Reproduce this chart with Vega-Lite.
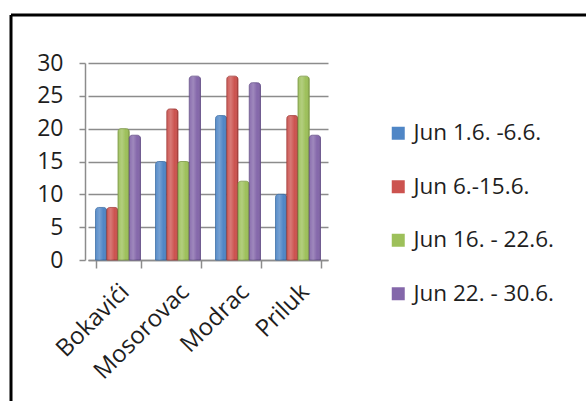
{
  "$schema": "https://vega.github.io/schema/vega-lite/v6.json",
  "width": 575,
  "height": 386,
  "autosize": {"type": "none"},
  "padding": {"left": 11, "top": 15, "right": 0, "bottom": 0},
  "background": "white",
  "config": {
    "font": "Open Sans",
    "view": {"stroke": "black", "strokeWidth": 3, "strokeDash": [575, 961, 386, 0]}
  },
  "data": {
    "values": [
      {"site": "Bokavići", "period": "Jun 1.6. -6.6.", "value": 8},
      {"site": "Bokavići", "period": "Jun 6.-15.6.", "value": 8},
      {"site": "Bokavići", "period": "Jun 16. - 22.6.", "value": 20},
      {"site": "Bokavići", "period": "Jun 22. - 30.6.", "value": 19},
      {"site": "Mosorovac", "period": "Jun 1.6. -6.6.", "value": 15},
      {"site": "Mosorovac", "period": "Jun 6.-15.6.", "value": 23},
      {"site": "Mosorovac", "period": "Jun 16. - 22.6.", "value": 15},
      {"site": "Mosorovac", "period": "Jun 22. - 30.6.", "value": 28},
      {"site": "Modrac", "period": "Jun 1.6. -6.6.", "value": 22},
      {"site": "Modrac", "period": "Jun 6.-15.6.", "value": 28},
      {"site": "Modrac", "period": "Jun 16. - 22.6.", "value": 12},
      {"site": "Modrac", "period": "Jun 22. - 30.6.", "value": 27},
      {"site": "Priluk", "period": "Jun 1.6. -6.6.", "value": 10},
      {"site": "Priluk", "period": "Jun 6.-15.6.", "value": 22},
      {"site": "Priluk", "period": "Jun 16. - 22.6.", "value": 28},
      {"site": "Priluk", "period": "Jun 22. - 30.6.", "value": 19}
    ]
  },
  "encoding": {
    "x": {
      "field": "site",
      "type": "nominal",
      "sort": null,
      "scale": {"range": [77, 317], "paddingInner": 0.25, "paddingOuter": 0.125},
      "axis": {
        "title": null,
        "orient": "bottom",
        "offset": -141,
        "labelAngle": -45,
        "labelAlign": "right",
        "labelBaseline": "middle",
        "labelFontSize": 24,
        "labelColor": "#1e1e1e",
        "labelPadding": 20,
        "labelOffset": 7,
        "labelLimit": 300,
        "tickBand": "extent",
        "tickSize": 8,
        "tickColor": "#8c8c8c",
        "domainColor": "#8c8c8c",
        "domainWidth": 1.5,
        "tickWidth": 1.5,
        "grid": false
      }
    },
    "xOffset": {"field": "period", "type": "nominal", "sort": null, "scale": {"paddingInner": 0, "paddingOuter": 0}},
    "y": {
      "field": "value",
      "type": "quantitative",
      "scale": {"domain": [0, 30], "range": [245, 48], "nice": false},
      "axis": {
        "title": null,
        "offset": -74,
        "values": [0, 5, 10, 15, 20, 25, 30],
        "labelFontSize": 23,
        "labelColor": "#1e1e1e",
        "labelPadding": 16,
        "tickSize": 6,
        "tickColor": "#8c8c8c",
        "tickWidth": 1.5,
        "domainColor": "#8c8c8c",
        "domainWidth": 1.5,
        "grid": true,
        "gridColor": "#8c8c8c",
        "gridWidth": 1.5
      }
    }
  },
  "layer": [
    {
      "mark": {"type": "bar", "strokeWidth": 0.8, "cornerRadiusTopLeft": 3, "cornerRadiusTopRight": 3},
      "encoding": {
        "color": {
          "field": "period",
          "type": "nominal",
          "sort": null,
          "scale": {
            "domain": ["Jun 1.6. -6.6.", "Jun 6.-15.6.", "Jun 16. - 22.6.", "Jun 22. - 30.6."],
            "range": ["#4F86C6", "#CC534F", "#9DC05A", "#8467AA"]
          },
          "legend": {
            "title": null,
            "orient": "none",
            "legendX": 376,
            "legendY": 107,
            "padding": 0,
            "symbolType": "square",
            "symbolSize": 169,
            "symbolStrokeWidth": 0,
            "labelFontSize": 22.5,
            "labelColor": "#1e1e1e",
            "labelOffset": 4,
            "rowPadding": 30.5,
            "labelLimit": 300
          }
        },
        "stroke": {
          "field": "period",
          "type": "nominal",
          "sort": null,
          "scale": {
            "domain": ["Jun 1.6. -6.6.", "Jun 6.-15.6.", "Jun 16. - 22.6.", "Jun 22. - 30.6."],
            "range": ["#3A6CA6", "#A53E3B", "#7E9C44", "#664F8A"]
          },
          "legend": null
        }
      }
    },
    {
      "mark": {
        "type": "bar",
        "cornerRadiusTopLeft": 3,
        "cornerRadiusTopRight": 3,
        "fill": {
          "gradient": "linear",
          "x1": 0, "y1": 0, "x2": 1, "y2": 0,
          "stops": [
            {"offset": 0, "color": "rgba(255,255,255,0.05)"},
            {"offset": 0.35, "color": "rgba(255,255,255,0.22)"},
            {"offset": 0.7, "color": "rgba(255,255,255,0.0)"},
            {"offset": 1, "color": "rgba(0,0,0,0.12)"}
          ]
        }
      }
    }
  ]
}
